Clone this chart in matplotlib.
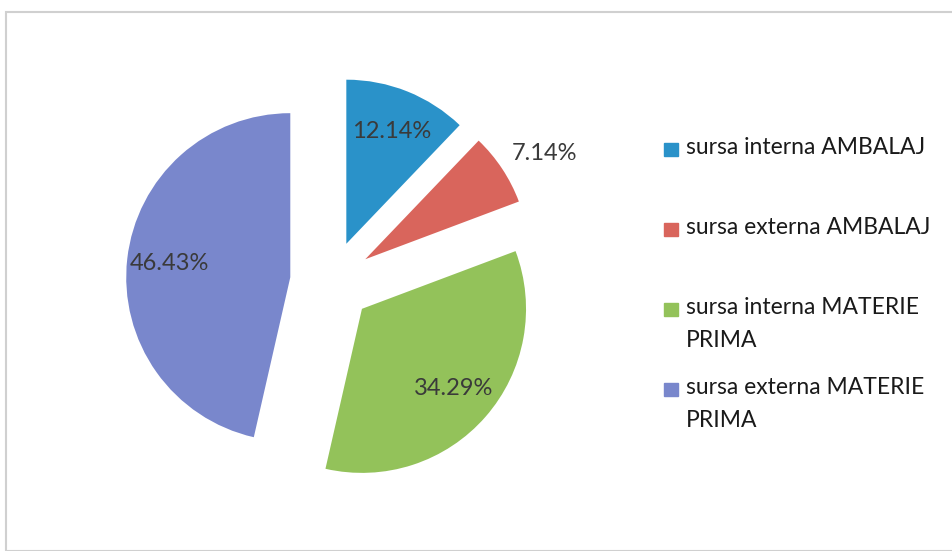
import matplotlib.pyplot as plt
from matplotlib.patches import Rectangle
import numpy as np

labels = ['sursa interna AMBALAJ', 'sursa externa AMBALAJ',
          'sursa interna MATERIE\nPRIMA', 'sursa externa MATERIE\nPRIMA']
values = [12.14, 7.14, 34.29, 46.43]
colors = ['#2a92c9', '#d9655c', '#93c25a', '#7987cc']

plt.rcParams['font.family'] = ['Lato', 'DejaVu Sans']

fig = plt.figure(figsize=(9.52, 5.51), dpi=100)
ax = fig.add_axes([0.072, 0.012, 0.5515, 0.953])

wedges, texts, autotexts = ax.pie(values, colors=colors, startangle=90, counterclock=False,
                                  explode=[0.25] * 4, autopct='%.2f%%', pctdistance=0.74,
                                  textprops={'fontsize': 17, 'color': '#3a3a3a'},
                                  wedgeprops={'linewidth': 0})
ax.set_xlim(-1.6, 1.6)
ax.set_ylim(-1.6, 1.6)
ax.set_aspect('equal')

# small slice label goes outside (best fit)
w = wedges[1]
ang = np.deg2rad((w.theta1 + w.theta2) / 2 - 3)
cx, cy = w.center
autotexts[1].set_position((cx + 1.27 * np.cos(ang), cy + 1.27 * np.sin(ang)))

# legend, Excel style: entries start at a fixed step
for i, (lab, col) in enumerate(zip(labels, colors)):
    y = 1 - (149 + 80 * i) / 551
    fig.patches.append(Rectangle((664 / 952, y - 6.5 / 551), 14 / 952, 13 / 551,
                                 transform=fig.transFigure, color=col, figure=fig))
    fig.text(686 / 952, y + 11.5 / 551, lab, fontsize=16.5, color='#1a1a1a',
             va='top', ha='left', linespacing=1.65)

# chart frame
fig.patches.append(Rectangle((6 / 952, 0), 1, 1 - 12 / 551, transform=fig.transFigure,
                             fill=False, edgecolor='#d0d0d0', linewidth=1.5, figure=fig))

fig.savefig('out.png', dpi=100)
